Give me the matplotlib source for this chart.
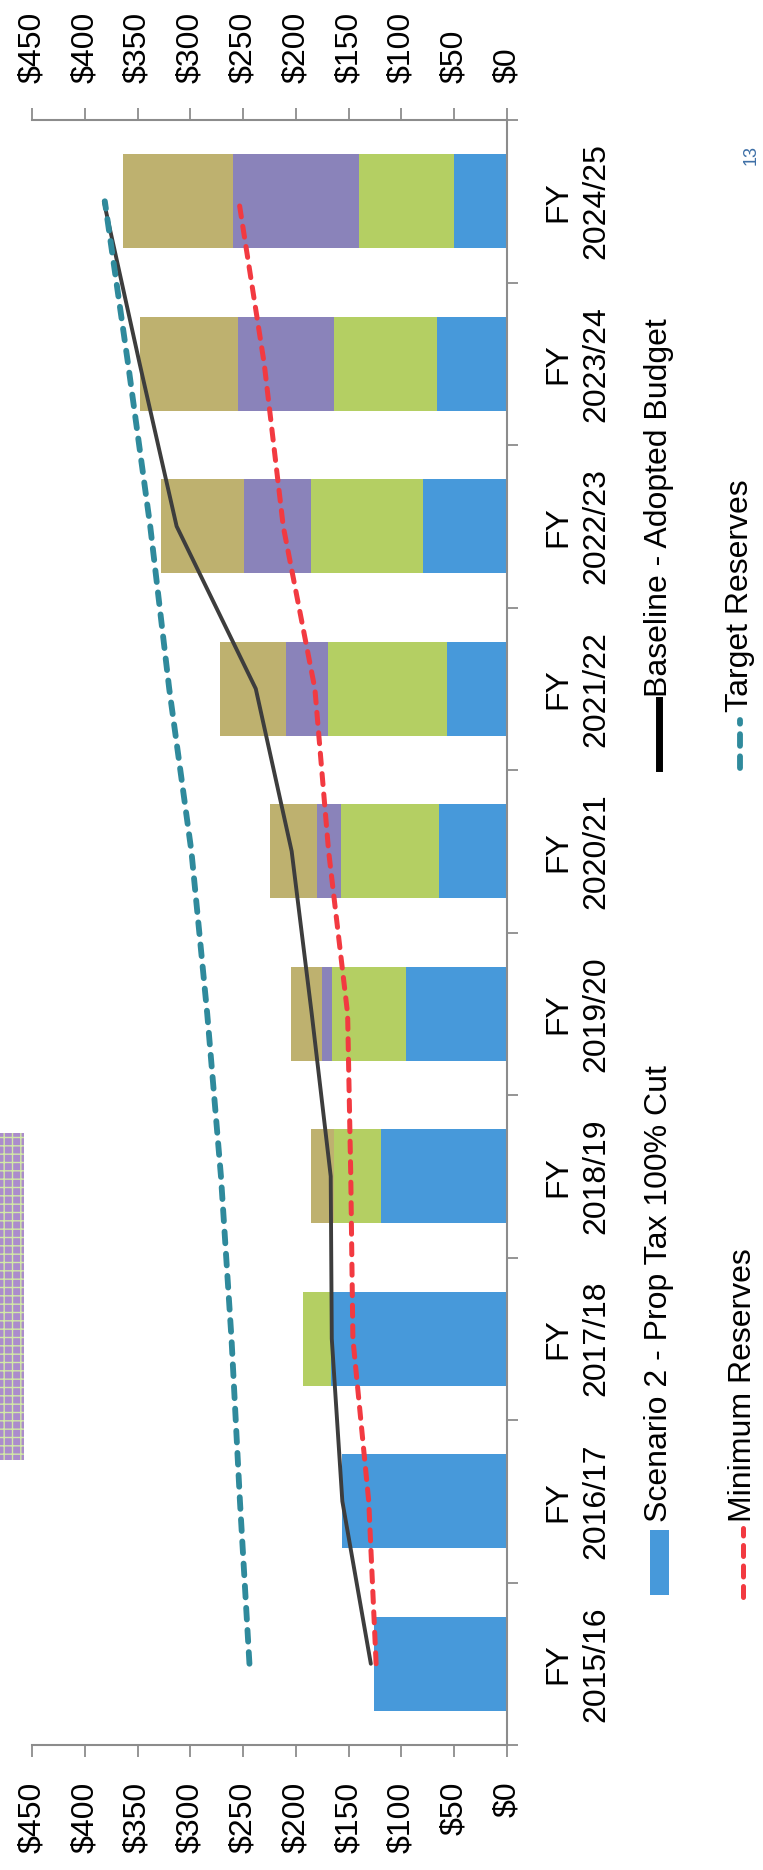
import matplotlib
matplotlib.use("Agg")
import matplotlib.pyplot as plt
from matplotlib.patches import Rectangle
from matplotlib.lines import Line2D
import numpy as np

plt.rcParams['font.family'] = ['Liberation Sans', 'DejaVu Sans']

# Reserve projections, $ millions
fiscal_years = ["2015/16", "2016/17", "2017/18", "2018/19", "2019/20",
                "2020/21", "2021/22", "2022/23", "2023/24", "2024/25"]
scenario2 = [126, 156, 167, 119, 96, 64, 57, 80, 66, 50]
green_part = [0, 0, 26, 45, 70, 93, 113, 106, 98, 90]
purple_part = [0, 0, 0, 0, 9, 23, 39, 63, 91, 120]
khaki_part = [0, 0, 0, 22, 30, 45, 63, 79, 93, 104]
baseline = [129, 156, 166, 167, 185, 204, 238, 313, 348, 382]
minimum_reserves = [124, 131, 146, 148, 151, 169, 182, 212, 230, 254]
target_reserves = [244, 253, 261, 271, 284, 299, 320, 338, 359, 381]
value_ticks = [0, 50, 100, 150, 200, 250, 300, 350, 400, 450]

BLUE = '#4799da'
GREEN = '#b4cf63'
PURPLE = '#8a83ba'
KHAKI = '#beb16f'
AXIS = '#8c8c8c'

W, H = 763, 1870
fig = plt.figure(figsize=(W / 100, H / 100), dpi=100)
fig.patch.set_facecolor('white')


def fx(px):
    return px / W


def fy(py):
    return 1 - py / H


# Chart is laid out sideways: values run right-to-left, years bottom-to-top
ax = fig.add_axes([fx(32), fy(1745), fx(507) - fx(32), fy(120) - fy(1745)])
pos = np.arange(len(fiscal_years))
left = np.zeros(len(fiscal_years))
for vals, color in [(scenario2, BLUE), (green_part, GREEN),
                    (purple_part, PURPLE), (khaki_part, KHAKI)]:
    ax.barh(pos, vals, left=left, height=0.58, color=color, linewidth=0, zorder=2)
    left += np.array(vals)

ax.plot(baseline, pos, color='#3d3d3d', lw=2.8, solid_capstyle='round', zorder=4)
ax.plot(minimum_reserves, pos, color='#f23a41', lw=3.6, dashes=(2.2, 1.9),
        dash_capstyle='round', zorder=5)
ax.plot(target_reserves, pos, color='#2f8a9c', lw=4.2, dashes=(2.0, 1.8),
        dash_capstyle='round', zorder=5)

ax.set_xlim(450, 0)
ax.set_ylim(-0.5, len(fiscal_years) - 0.5)

ax.set_xticks(value_ticks)
ax.set_xticklabels([f"${v}" for v in value_ticks])
ax.tick_params(axis='x', which='major', top=True, bottom=True, labeltop=True,
               labelbottom=True, direction='out', length=8.5, width=1.3,
               color=AXIS, labelsize=23, labelrotation=90, pad=18)

ax.set_yticks(pos)
ax.set_yticklabels([f"FY\n{y}" for y in fiscal_years], rotation=90,
                   ha='center', va='center', multialignment='center',
                   linespacing=1.35)
ax.set_yticks(np.arange(-0.5, len(fiscal_years), 1), minor=True)
ax.tick_params(axis='y', which='major', left=False, right=True,
               labelleft=False, labelright=True, length=0, pad=51,
               labelsize=23)
ax.tick_params(axis='y', which='minor', left=False, right=True, length=8,
               direction='out', width=1.3, color=AXIS)

ax.spines['left'].set_visible(False)
for side in ('right', 'top', 'bottom'):
    ax.spines[side].set_color(AXIS)
    ax.spines[side].set_linewidth(1.5)

# Legend, drawn sideways to the right of the year labels
fig.add_artist(Rectangle((fx(650), fy(1595)), fx(19), 65 / H,
                         transform=fig.transFigure, color=BLUE, lw=0))
fig.text(fx(659), fy(1522), "Scenario 2 - Prop Tax 100% Cut", rotation=90,
         ha='center', va='bottom', fontsize=23)
fig.add_artist(Line2D([fx(659), fx(659)], [fy(768), fy(700)],
                      transform=fig.transFigure, color='black', lw=5))
fig.text(fx(659), fy(697), "Baseline - Adopted Budget", rotation=90,
         ha='center', va='bottom', fontsize=23)
fig.add_artist(Line2D([fx(743), fx(743)], [fy(1597), fy(1528)],
                      transform=fig.transFigure, color='#f23a41', lw=3.6,
                      dashes=(2.2, 1.9), dash_capstyle='round'))
fig.text(fx(743), fy(1522), "Minimum Reserves", rotation=90,
         ha='center', va='bottom', fontsize=23)
fig.add_artist(Line2D([fx(740), fx(740)], [fy(768), fy(720)],
                      transform=fig.transFigure, color='#2f8a9c', lw=4.2,
                      dashes=(2.0, 1.8), dash_capstyle='round'))
fig.text(fx(740), fy(712), "Target Reserves", rotation=90,
         ha='center', va='bottom', fontsize=23)

# Page number
fig.text(fx(751), fy(155), "13", rotation=90, color='#3d6fa6', fontsize=13,
         ha='center', va='center')

# Callout box at the left margin
fig.add_artist(Rectangle((0, fy(1460)), fx(24), (1460 - 1133) / H,
                         transform=fig.transFigure, facecolor='#ab8ccc',
                         edgecolor='#d2e8a6', hatch='++', lw=0))

fig.savefig("out.png", dpi=100, facecolor=fig.get_facecolor())
